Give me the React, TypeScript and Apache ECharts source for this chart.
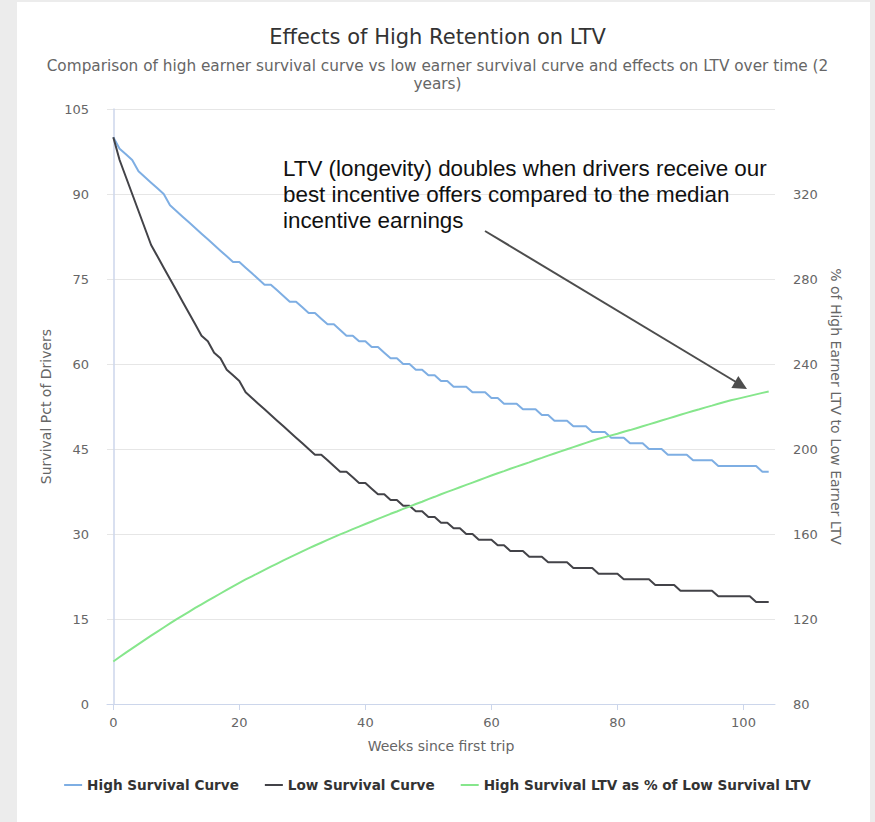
import React, { useEffect, useRef } from "react";
import * as echarts from "echarts";

const titleText = "Effects of High Retention on LTV";
const subtitleText =
  "Comparison of high earner survival curve vs low earner survival curve and effects on LTV over time (2\nyears)";
const xAxisName = "Weeks since first trip";
const leftAxisName = "Survival Pct of Drivers";
const rightAxisName = "% of High Earner LTV to Low Earner LTV";
const annotationText =
  "LTV (longevity) doubles when drivers receive our\nbest incentive offers compared to the median\nincentive earnings";

const seriesNames = [
  "High Survival Curve",
  "Low Survival Curve",
  "High Survival LTV as % of Low Survival LTV",
];

const xTickValues = [0, 20, 40, 60, 80, 100];

// Survival pct of high earners, week 0..104
const highSurvival = [
  100, 98, 97, 96, 94, 93, 92, 91, 90, 88, 87, 86, 85, 84, 83, 82, 81, 80, 79, 78,
  78, 77, 76, 75, 74, 74, 73, 72, 71, 71, 70, 69, 69, 68, 67, 67, 66, 65, 65, 64,
  64, 63, 63, 62, 61, 61, 60, 60, 59, 59, 58, 58, 57, 57, 56, 56, 56, 55, 55, 55,
  54, 54, 53, 53, 53, 52, 52, 52, 51, 51, 50, 50, 50, 49, 49, 49, 48, 48, 48, 47,
  47, 47, 46, 46, 46, 45, 45, 45, 44, 44, 44, 44, 43, 43, 43, 43, 42, 42, 42, 42,
  42, 42, 42, 41, 41,
];

// Survival pct of low earners, week 0..104
const lowSurvival = [
  100, 96, 93, 90, 87, 84, 81, 79, 77, 75, 73, 71, 69, 67, 65, 64, 62, 61, 59, 58,
  57, 55, 54, 53, 52, 51, 50, 49, 48, 47, 46, 45, 44, 44, 43, 42, 41, 41, 40, 39,
  39, 38, 37, 37, 36, 36, 35, 35, 34, 34, 33, 33, 32, 32, 31, 31, 30, 30, 29, 29,
  29, 28, 28, 27, 27, 27, 26, 26, 26, 25, 25, 25, 25, 24, 24, 24, 24, 23, 23, 23,
  23, 22, 22, 22, 22, 22, 21, 21, 21, 21, 20, 20, 20, 20, 20, 20, 19, 19, 19, 19,
  19, 19, 18, 18, 18,
];

// High survival LTV as % of low survival LTV, week 0..104
const ltvRatio = [
  100, 102.1, 104.2, 106.2, 108.2, 110.2, 112.2, 114.1, 116.0, 117.9,
  119.8, 121.6, 123.4, 125.2, 126.9, 128.6, 130.3, 132.0, 133.7, 135.4,
  137.0, 138.6, 140.1, 141.6, 143.1, 144.6, 146.1, 147.6, 149.0, 150.4,
  151.8, 153.2, 154.6, 155.9, 157.2, 158.5, 159.8, 161.0, 162.3, 163.5,
  164.7, 165.9, 167.1, 168.3, 169.5, 170.6, 171.8, 172.9, 174.1, 175.2,
  176.4, 177.5, 178.7, 179.8, 180.9, 182.0, 183.1, 184.2, 185.3, 186.4,
  187.5, 188.6, 189.6, 190.7, 191.7, 192.7, 193.7, 194.8, 195.8, 196.9,
  197.9, 198.9, 199.9, 200.9, 201.9, 202.9, 203.9, 204.8, 205.6, 206.4,
  207.2, 208.1, 208.9, 209.8, 210.7, 211.6, 212.5, 213.4, 214.3, 215.2,
  216.1, 217.0, 217.9, 218.7, 219.6, 220.4, 221.3, 222.1, 222.9, 223.6,
  224.3, 225.0, 225.7, 226.4, 227.1,
];

const colors = ["#7eaee3", "#434348", "#86e68c"];

export default function App() {
  const ref = useRef<HTMLDivElement>(null);

  useEffect(() => {
    if (!ref.current) return;
    const chart = echarts.init(ref.current, undefined, { renderer: "svg" });
    const toPairs = (arr: number[]) => arr.map((v, i) => [i, v]);
    const font = "DejaVu Sans";

    chart.setOption({
      animation: false,
      color: colors,
      textStyle: { fontFamily: font },
      title: [
        {
          text: titleText,
          left: "center",
          top: 26,
          padding: 0,
          textStyle: {
            fontFamily: font,
            fontSize: 21,
            fontWeight: "normal",
            color: "#333333",
            lineHeight: 22,
          },
        },
        {
          text: subtitleText,
          left: "center",
          top: 57,
          padding: 0,
          textStyle: {
            fontFamily: font,
            fontSize: 15.3,
            fontWeight: "normal",
            color: "#666666",
            lineHeight: 18,
          },
        },
      ],
      legend: {
        data: seriesNames,
        top: 778,
        left: "center",
        padding: 0,
        itemGap: 26,
        itemWidth: 18,
        itemHeight: 2,
        icon: "rect",
        textStyle: {
          fontFamily: font,
          fontSize: 13.6,
          fontWeight: "bold",
          color: "#333333",
        },
      },
      grid: { left: 107, right: 100, top: 109, bottom: 118 },
      xAxis: {
        type: "value",
        min: -1,
        max: 105,
        name: xAxisName,
        nameLocation: "middle",
        nameGap: 35,
        nameTextStyle: { fontFamily: font, fontSize: 14, color: "#666666" },
        axisLine: { show: true, lineStyle: { color: "#ccd6eb", width: 1 } },
        axisTick: {
          show: true,
          customValues: xTickValues,
          length: 6,
          lineStyle: { color: "#ccd6eb" },
        },
        axisLabel: {
          customValues: xTickValues,
          fontFamily: font,
          fontSize: 13,
          color: "#666666",
          margin: 12,
        },
        splitLine: { show: false },
      },
      yAxis: [
        {
          type: "value",
          min: 0,
          max: 105,
          interval: 15,
          position: "left",
          name: leftAxisName,
          nameLocation: "middle",
          nameGap: 53,
          nameTextStyle: { fontFamily: font, fontSize: 14, color: "#666666" },
          axisLine: { show: true, lineStyle: { color: "#ccd6eb", width: 1.5 } },
          axisTick: { show: false },
          axisLabel: {
            fontFamily: font,
            fontSize: 13,
            color: "#666666",
            margin: 18,
          },
          splitLine: { show: true, lineStyle: { color: "#e6e6e6", width: 1 } },
        },
        {
          type: "value",
          min: 80,
          max: 360,
          interval: 40,
          position: "right",
          name: rightAxisName,
          nameLocation: "middle",
          nameRotate: -90,
          nameGap: 54,
          nameTextStyle: { fontFamily: font, fontSize: 14, color: "#666666" },
          axisLine: { show: false },
          axisTick: { show: false },
          axisLabel: {
            fontFamily: font,
            fontSize: 13,
            color: "#666666",
            margin: 18,
            showMaxLabel: false,
          },
          splitLine: { show: false },
        },
      ],
      series: [
        {
          name: seriesNames[0],
          type: "line",
          yAxisIndex: 0,
          data: toPairs(highSurvival),
          showSymbol: false,
          lineStyle: { width: 2, color: colors[0] },
          itemStyle: { color: colors[0] },
        },
        {
          name: seriesNames[1],
          type: "line",
          yAxisIndex: 0,
          data: toPairs(lowSurvival),
          showSymbol: false,
          lineStyle: { width: 2, color: colors[1] },
          itemStyle: { color: colors[1] },
        },
        {
          name: seriesNames[2],
          type: "line",
          yAxisIndex: 1,
          data: toPairs(ltvRatio),
          showSymbol: false,
          lineStyle: { width: 2, color: colors[2] },
          itemStyle: { color: colors[2] },
        },
      ],
      graphic: [
        {
          type: "text",
          left: 283,
          top: 155,
          z: 10,
          style: {
            text: annotationText,
            fontFamily: "Liberation Sans",
            fontSize: 22.4,
            lineHeight: 26,
            fill: "#111111",
          },
        },
        {
          type: "line",
          z: 10,
          shape: { x1: 485, y1: 231, x2: 736, y2: 382 },
          style: { stroke: "#4d4d4d", lineWidth: 2 },
        },
        {
          type: "polygon",
          z: 10,
          shape: {
            points: [
              [747, 389],
              [731.4, 388.1],
              [738.3, 375.9],
            ],
          },
          style: { fill: "#4d4d4d" },
        },
      ],
    });

    return () => chart.dispose();
  }, []);

  return (
    <div
      style={{
        position: "fixed",
        left: 0,
        top: 0,
        width: 875,
        height: 822,
        background: "#ececec",
        overflow: "hidden",
      }}
    >
      <div
        style={{
          position: "absolute",
          left: 17,
          top: 2,
          width: 853,
          height: 820,
          background: "#ffffff",
        }}
      />
      <div
        ref={ref}
        style={{ position: "absolute", left: 0, top: 0, width: 875, height: 822 }}
      />
    </div>
  );
}
